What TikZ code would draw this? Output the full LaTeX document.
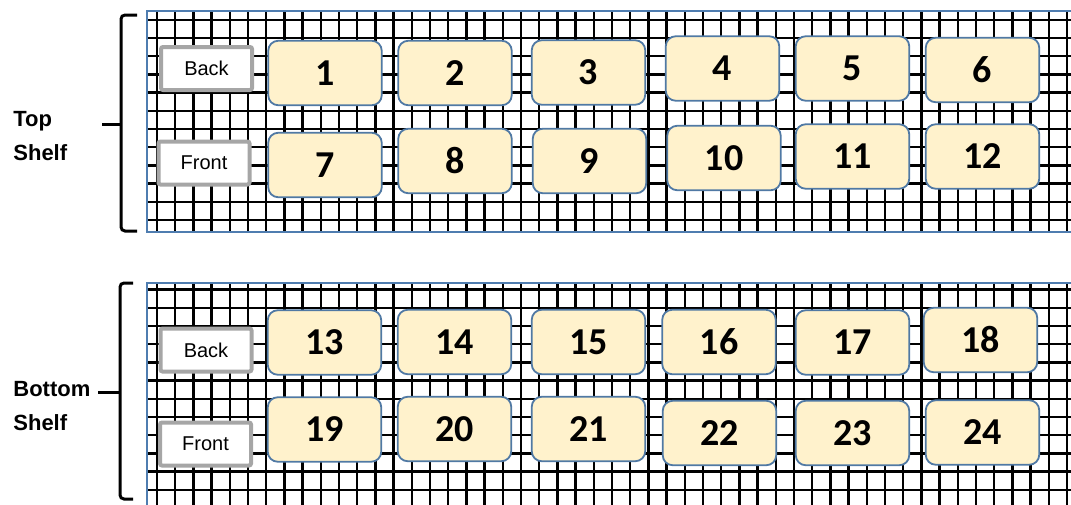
\documentclass[tikz,border=0pt]{standalone}
\usepackage{fontspec}
\setmainfont{Liberation Sans}
\newfontfamily\numfont{Carlito}
\usetikzlibrary{backgrounds}

\definecolor{slotfill}{HTML}{FFF2CC}
\definecolor{slotline}{HTML}{5079A4}
\definecolor{sidegray}{HTML}{A6A6A6}
\definecolor{frameblue}{HTML}{4F7DB0}

\begin{document}
\begin{tikzpicture}[
  x=0.5pt, y=-0.5pt,
  slot/.style={draw=slotline, fill=slotfill, rounded corners=5pt, line width=0.9pt,
               minimum width=56.75pt, minimum height=32.25pt, inner sep=0pt,
               font=\numfont\fontsize{19}{22}\selectfont\bfseries},
  side/.style={draw=sidegray, fill=white, rounded corners=1pt, line width=2pt,
               minimum width=45.5pt, minimum height=21.5pt, inner sep=0pt,
               font=\fontsize{10}{12}\selectfont},
  shelf/.style={anchor=base west, align=left, inner sep=0pt,
                font=\fontsize{11}{16.9}\selectfont\bfseries},
  gridline/.style={line width=1.2pt, black},
  frame/.style={draw=frameblue, line width=1pt},
  brack/.style={line width=1.5pt, rounded corners=2pt},
]
\clip (0,0) rectangle (1071,504);

% ---- Wire grid of both shelves ----------------------------------------------
\begin{scope}[on background layer]
  \foreach \i in {0,...,50}{
    \draw[gridline] ({157+18.2*\i},11.3) -- ({157+18.2*\i},231.7);
    \draw[gridline] ({157+18.2*\i},282.7) -- ({157+18.2*\i},515);
  }
  \foreach \j in {0,...,11}{
    \draw[gridline] (147,{19.7+18.2*\j}) -- (1080,{19.7+18.2*\j});
    \draw[gridline] (147,{289.5+18.2*\j}) -- (1080,{289.5+18.2*\j});
  }
\end{scope}
\draw[frame] (147,11.3) rectangle (1085,231.7);
\draw[frame] (147,282.7) rectangle (1085,520);

% ---- Top shelf --------------------------------------------------------------
\node[side] (tBack)  at (206.5,68.5) {Back};
\node[side] (tFront) at (204,163)    {Front};

\node[slot] (b1)  at (325,73)     {1};
\node[slot] (b2)  at (455,73)     {2};
\node[slot] (b3)  at (588.5,72.5) {3};
\node[slot] (b4)  at (722.5,68.5) {4};
\node[slot] (b5)  at (852.5,68.5) {5};
\node[slot] (b6)  at (982.5,70)   {6};
\node[slot] (b7)  at (325,165)    {7};
\node[slot] (b8)  at (455,161)    {8};
\node[slot] (b9)  at (589.5,161)  {9};
\node[slot] (b10) at (724,158)    {10};
\node[slot] (b11) at (852.5,156.5){11};
\node[slot] (b12) at (982.5,156.5){12};

% ---- Bottom shelf -----------------------------------------------------------
\node[side] (bBack)  at (206,350)   {Back};
\node[side] (bFront) at (205.5,444) {Front};

\node[slot] (b13) at (324.5,342.5) {13};
\node[slot] (b14) at (454.5,342)   {14};
\node[slot] (b15) at (588.5,342)   {15};
\node[slot] (b16) at (719,342)     {16};
\node[slot] (b17) at (852.5,342.5) {17};
\node[slot] (b18) at (980.5,340)   {18};
\node[slot] (b19) at (324.5,429.5) {19};
\node[slot] (b20) at (454.5,429)   {20};
\node[slot] (b21) at (588.5,429)   {21};
\node[slot] (b22) at (719.5,433)   {22};
\node[slot] (b23) at (852.5,433)   {23};
\node[slot] (b24) at (982.5,432.5) {24};

% ---- Shelf labels and brackets ----------------------------------------------
\node[shelf] (topLbl) at (13,160.7) {Top\\Shelf};
\node[shelf] (botLbl) at (13,430)   {Bottom\\Shelf};

\draw[brack] (137,15) -- (121,15) -- (121,231) -- (137,231);
\draw[brack] (102,124) -- (121,124);
\draw[brack] (133,283) -- (120,283) -- (120,499) -- (133,499);
\draw[brack] (98,392) -- (120,392);

\end{tikzpicture}
\end{document}
